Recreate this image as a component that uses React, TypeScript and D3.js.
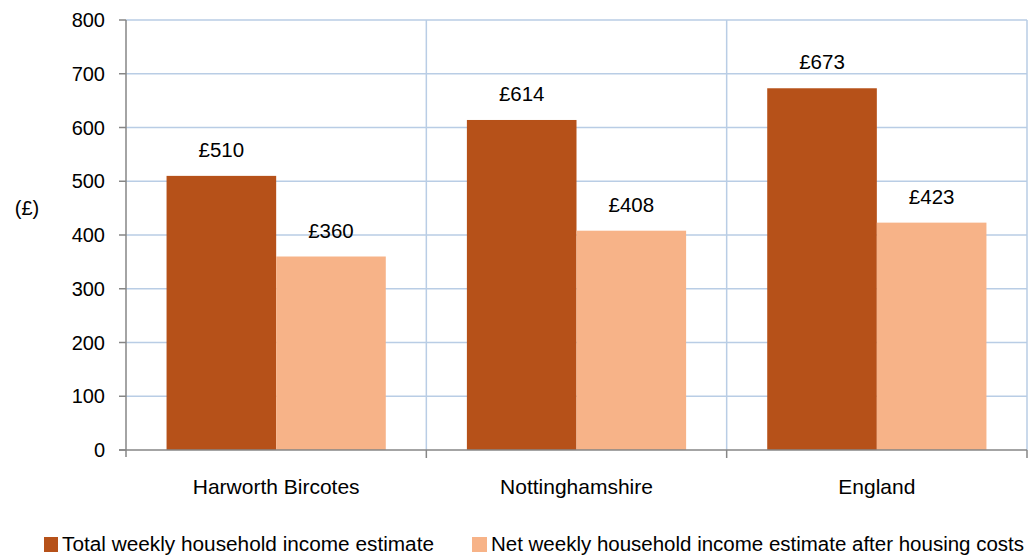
import React from "react";
import * as d3 from "d3";

const categories = ["Harworth Bircotes", "Nottinghamshire", "England"];
const seriesNames = [
  "Total weekly household income estimate",
  "Net weekly household income estimate after housing costs",
];
const totalIncome = [510, 614, 673];
const netIncome = [360, 408, 423];
const yTicks = [0, 100, 200, 300, 400, 500, 600, 700, 800];
const colors = ["#B65119", "#F7B388"];

const W = 1031;
const H = 558;
const margin = { left: 126, right: 4, top: 20, bottom: 108 };
const FONT = "'Liberation Sans', Arial, sans-serif";

export default function App() {
  const x0 = d3
    .scaleBand<string>()
    .domain(categories)
    .range([margin.left, W - margin.right])
    .paddingInner(0)
    .paddingOuter(0);
  const y = d3.scaleLinear().domain([0, 800]).range([H - margin.bottom, margin.top]);
  const bw = x0.bandwidth();
  const x1 = d3
    .scaleBand<number>()
    .domain([0, 1])
    .range([0, bw])
    .paddingOuter(0.37)
    .paddingInner(0);
  const series = [totalIncome, netIncome];
  const yBottom = y(0);
  const xRight = W - margin.right;

  return (
    <svg width={W} height={H} style={{ position: "absolute", left: 0, top: 0 }} fontFamily={FONT}>
      <rect x={0} y={0} width={W} height={H} fill="#fff" />
      {yTicks.filter((t) => t > 0).map((t) => (
        <line key={"g" + t} x1={margin.left} x2={xRight} y1={y(t)} y2={y(t)} stroke="#B9CDE5" strokeWidth={1.5} />
      ))}
      {categories.map((c) => (
        <line key={"v" + c} x1={x0(c)! + bw} x2={x0(c)! + bw} y1={margin.top} y2={yBottom} stroke="#B9CDE5" strokeWidth={1.5} />
      ))}
      {categories.map((c, i) =>
        series.map((s, k) => (
          <rect
            key={c + k}
            x={x0(c)! + x1(k)!}
            y={y(s[i])}
            width={x1.bandwidth()}
            height={yBottom - y(s[i])}
            fill={colors[k]}
          />
        ))
      )}
      {categories.map((c, i) =>
        series.map((s, k) => (
          <text
            key={"l" + c + k}
            x={x0(c)! + x1(k)! + x1.bandwidth() / 2}
            y={y(s[i]) - 19}
            textAnchor="middle"
            fontSize={20.5}
            fill="#000"
          >
            {"£" + s[i]}
          </text>
        ))
      )}
      <line x1={margin.left} x2={margin.left} y1={margin.top} y2={yBottom + 7} stroke="#868686" strokeWidth={1.5} />
      {yTicks.map((t) => (
        <g key={"t" + t}>
          <line x1={margin.left - 7} x2={margin.left} y1={y(t)} y2={y(t)} stroke="#868686" strokeWidth={1.5} />
          <text x={105} y={y(t) + 7} textAnchor="end" fontSize={20} fill="#000">
            {t}
          </text>
        </g>
      ))}
      <text x={27} y={215} textAnchor="middle" fontSize={20} fill="#000">(£)</text>
      <line x1={margin.left - 7} x2={xRight} y1={yBottom} y2={yBottom} stroke="#868686" strokeWidth={1.5} />
      {categories.map((c) => (
        <line key={"xt" + c} x1={x0(c)! + bw} x2={x0(c)! + bw} y1={yBottom} y2={yBottom + 8} stroke="#868686" strokeWidth={1.5} />
      ))}
      {categories.map((c) => (
        <text key={"xl" + c} x={x0(c)! + bw / 2} y={494} textAnchor="middle" fontSize={21} fill="#000">
          {c}
        </text>
      ))}
      <rect x={44} y={537} width={14} height={15} fill={colors[0]} />
      <text x={62} y={551} fontSize={20} fill="#000" textLength={372} lengthAdjust="spacingAndGlyphs">{seriesNames[0]}</text>
      <rect x={472} y={537} width={15} height={15} fill={colors[1]} />
      <text x={491} y={551} fontSize={20} fill="#000" textLength={533} lengthAdjust="spacingAndGlyphs">{seriesNames[1]}</text>
    </svg>
  );
}
